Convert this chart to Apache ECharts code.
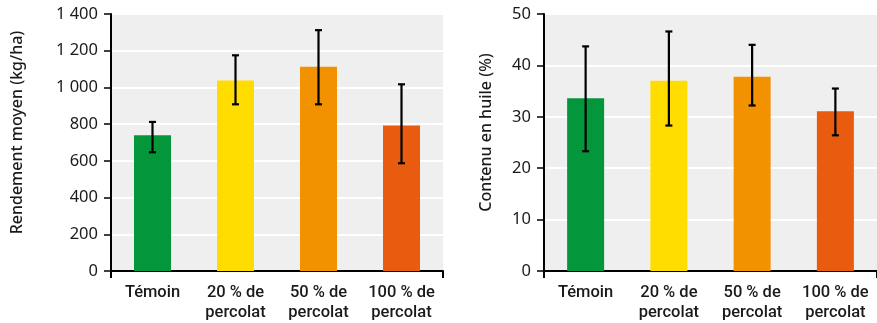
<!DOCTYPE html>
<html>
<head>
<meta charset="utf-8">
<script src="https://cdn.jsdelivr.net/npm/echarts@6/dist/echarts.min.js"></script>
<style>
  html, body { margin: 0; padding: 0; background: #fff; }
  #box1 { width: 877px; height: 323px; }
</style>
</head>
<body>
<div id="box1"></div>
<script>
var categories = ['Témoin', '20 % de\npercolat', '50 % de\npercolat', '100 % de\npercolat'];
var barColors = ['#04963b', '#ffdd00', '#f39200', '#e95c0f'];

// rendement moyen (kg/ha)
var rendement = [740, 1038, 1113, 793];
var rendementBas = [647, 908, 908, 587];
var rendementHaut = [812, 1175, 1312, 1017];

// contenu en huile (%)
var huile = [33.6, 37.0, 37.8, 31.1];
var huileBas = [23.3, 28.3, 32.2, 26.4];
var huileHaut = [43.7, 46.6, 44.0, 35.5];

var dom = document.getElementById("box1");
var myChart = echarts.init(dom);

function errData(lo, hi) {
    return lo.map(function (v, i) { return [i, v, hi[i]]; });
}

function renderErr(params, api) {
    var x = api.value(0);
    var top = api.coord([x, api.value(2)]);
    var bot = api.coord([x, api.value(1)]);
    var w = 3.5;
    var st = { stroke: '#000', lineWidth: 2.2 };
    return {
        type: 'group',
        children: [
            { type: 'line', shape: { x1: top[0], y1: top[1], x2: bot[0], y2: bot[1] }, style: st },
            { type: 'line', shape: { x1: top[0] - w, y1: top[1], x2: top[0] + w, y2: top[1] }, style: st },
            { type: 'line', shape: { x1: bot[0] - w, y1: bot[1], x2: bot[0] + w, y2: bot[1] }, style: st }
        ]
    };
}

function thousands(v) {
    return String(v).replace(/\B(?=(\d{3})+(?!\d))/g, ' ');
}

function xAxisOpt(gi) {
    return {
        type: 'category',
        gridIndex: gi,
        data: categories,
        axisLine: { lineStyle: { color: '#000', width: 2 } },
        axisTick: {
            show: true, length: 7, inside: false,
            interval: function (i) { return i === 0; },
            lineStyle: { color: '#000', width: 2 }
        },
        axisLabel: {
            margin: 12, interval: 0, color: '#1a1a1a',
            fontFamily: 'Roboto', fontWeight: 500, fontSize: 16.5, lineHeight: 20
        }
    };
}

function yAxisOpt(gi, max, interval, name, gap, fmt) {
    return {
        type: 'value',
        gridIndex: gi,
        min: 0, max: max, interval: interval,
        name: name,
        nameLocation: 'middle',
        nameGap: gap,
        nameTextStyle: { color: '#1a1a1a', fontFamily: 'Noto Sans', fontWeight: 500, fontSize: 16, padding: [0, 0, 0, 20] },
        axisLine: { show: true, lineStyle: { color: '#000', width: 2 } },
        axisTick: { show: true, length: 7, lineStyle: { color: '#000', width: 1.5 } },
        axisLabel: { margin: 13, color: '#1a1a1a', fontFamily: 'Noto Sans', fontSize: 16.5, formatter: fmt },
        splitLine: { show: true, lineStyle: { color: '#ffffff', width: 2 } }
    };
}

option = {
    animation: false,
    grid: [
        { left: 111, right: 434, top: 14, bottom: 52, show: true, backgroundColor: '#efefef', borderWidth: 0 },
        { left: 544, right: 0, top: 14, bottom: 52, show: true, backgroundColor: '#efefef', borderWidth: 0 }
    ],
    xAxis: [xAxisOpt(0), xAxisOpt(1)],
    yAxis: [
        yAxisOpt(0, 1400, 200, 'Rendement moyen (kg/ha)', 86, thousands),
        yAxisOpt(1, 50, 10, 'Contenu en huile (%)', 50, null)
    ],
    series: [
        {
            type: 'bar', xAxisIndex: 0, yAxisIndex: 0, barWidth: 37,
            data: rendement.map(function (v, i) { return { value: v, itemStyle: { color: barColors[i] } }; })
        },
        {
            type: 'custom', xAxisIndex: 0, yAxisIndex: 0, renderItem: renderErr,
            data: errData(rendementBas, rendementHaut), z: 5
        },
        {
            type: 'bar', xAxisIndex: 1, yAxisIndex: 1, barWidth: 37,
            data: huile.map(function (v, i) { return { value: v, itemStyle: { color: barColors[i] } }; })
        },
        {
            type: 'custom', xAxisIndex: 1, yAxisIndex: 1, renderItem: renderErr,
            data: errData(huileBas, huileHaut), z: 5
        }
    ]
};

if (option && typeof option === "object") {
    myChart.setOption(option, true);
}
</script>
</body>
</html>
